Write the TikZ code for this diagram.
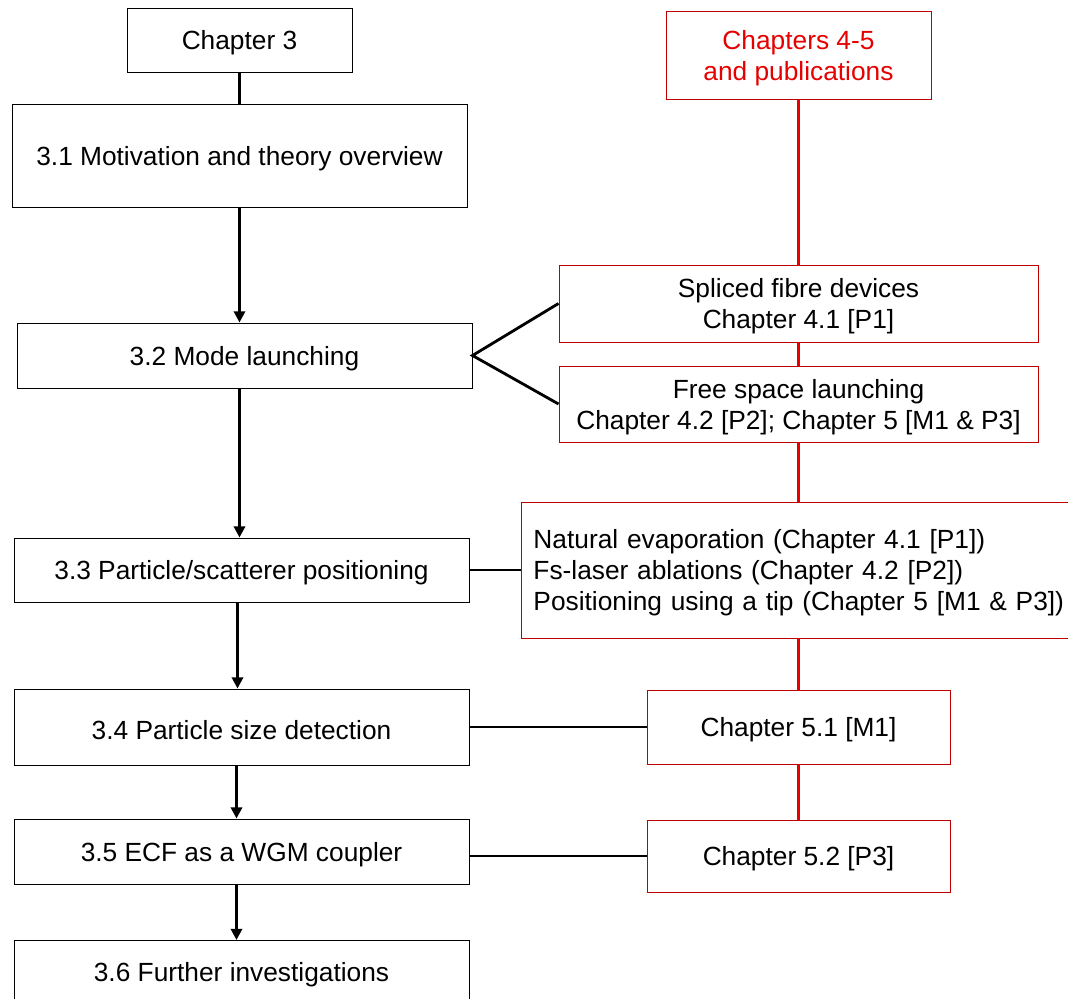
\documentclass[tikz,border=0pt]{standalone}
\usepackage{fontspec}
\setmainfont{Liberation Sans}
\usetikzlibrary{arrows.meta,backgrounds}
\definecolor{pubtext}{RGB}{230,0,0}
\definecolor{pubframe}{RGB}{192,0,0}
\definecolor{publine}{RGB}{232,0,0}
\newcommand\firstline{\rule{0pt}{17.6pt}}

\begin{document}
\begin{tikzpicture}[
  x=0.025cm,y=-0.025cm,
  >={Triangle[length=8pt,width=8pt]},
  box/.style={draw=black,line width=0.7pt,fill=white,inner sep=0pt,
              font=\fontsize{18.7}{22}\selectfont,align=center,
              execute at begin node={\firstline}},
  pubbox/.style={box,draw=pubframe},
  link/.style={black,line width=2pt},
  flow/.style={link,->},
  redline/.style={publine,line width=2pt}
]
\def\px{0.025cm}
\useasboundingbox (0,0) rectangle (1068,999);
% thesis chapter 3 sections
\node[box,minimum width=225*\px,minimum height=64*\px] (ch3) at (239.5,40) {Chapter 3};
\node[box,minimum width=455*\px,minimum height=103*\px] (s31) at (239.5,155.5) {3.1 Motivation and theory overview};
\node[box,minimum width=455*\px,minimum height=65*\px] (s32) at (244.5,355.5) {3.2 Mode launching};
\node[box,minimum width=455*\px,minimum height=64*\px] (s33) at (241.5,570) {3.3 Particle/scatterer positioning};
\node[box,minimum width=455*\px,minimum height=76*\px] (s34) at (241.5,727) {3.4 Particle size detection};
\node[box,minimum width=455*\px,minimum height=65*\px] (s35) at (241.5,851.5) {3.5 ECF as a WGM coupler};
\node[box,minimum width=455*\px,minimum height=100*\px,anchor=north] (s36) at (241.5,940) {};
\node[box,draw=none,fill=none] (s36t) at (241.5,972) {3.6 Further investigations};
% chapters 4-5 and publications
\node[pubbox,text=pubtext,minimum width=265*\px,minimum height=88*\px] (pubs) at (798.5,55) {\firstline Chapters 4-5\\and publications};
\node[pubbox,minimum width=479*\px,minimum height=77*\px] (p41) at (798.5,303.5) {\firstline Spliced fibre devices\\Chapter 4.1 [P1]};
\node[pubbox,minimum width=479*\px,minimum height=76*\px] (p42) at (798.5,404) {\firstline Free space launching\\Chapter 4.2 [P2]; Chapter 5 [M1 \& P3]};
\node[pubbox,align=left,anchor=west,inner xsep=12*\px,text width=540*\px,minimum height=136*\px] (nat) at (521,570)
  {Natural evaporation (Chapter 4.1 [P1])\\Fs-laser ablations (Chapter 4.2 [P2])\\Positioning using a tip (Chapter 5 [M1 \& P3])};
\node[pubbox,minimum width=303*\px,minimum height=74*\px] (p51) at (798.5,727) {Chapter 5.1 [M1]};
\node[pubbox,minimum width=303*\px,minimum height=72*\px] (p52) at (798.5,856) {Chapter 5.2 [P3]};

% red spine behind the boxes
\begin{scope}[on background layer]
\draw[redline] (pubs.south) -- (p52.north);
\end{scope}

% section flow
\draw[link] (ch3) -- (s31);
\draw[flow] (s31.south) -- (s31.south |- s32.north);
\draw[flow] ([xshift=-5*\px]s32.south) -- ([xshift=-5*\px]s32.south |- s33.north);
\draw[flow] ([xshift=-4*\px]s33.south) -- ([xshift=-4*\px]s33.south |- s34.north);
\draw[flow] ([xshift=-5*\px]s34.south) -- ([xshift=-5*\px]s34.south |- s35.north);
\draw[flow] ([xshift=-5*\px]s35.south) -- ([xshift=-5*\px]s35.south |- s36.north);

% links to chapters
\draw[link] (p41.west) -- (s32.east) -- (p42.west);
\draw[link] (s33.east) -- (s33.east -| nat.west);
\draw[link] (s34.east) -- (p51.west);
\draw[link] (p52.west) -- (p52.west -| s35.east);
\end{tikzpicture}
\end{document}
